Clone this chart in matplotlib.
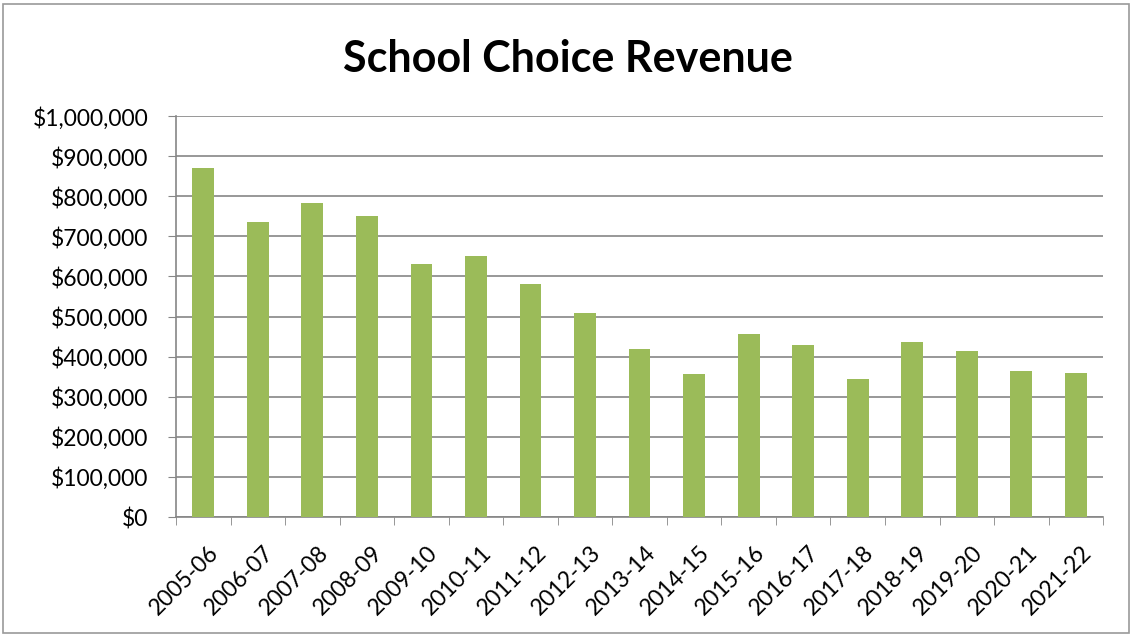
import matplotlib.pyplot as plt
import matplotlib.transforms as mtransforms
from matplotlib.ticker import FuncFormatter, FixedLocator
from matplotlib.patches import Rectangle

# school years and revenue
years = ["2005-06", "2006-07", "2007-08", "2008-09", "2009-10", "2010-11", "2011-12",
         "2012-13", "2013-14", "2014-15", "2015-16", "2016-17", "2017-18", "2018-19",
         "2019-20", "2020-21", "2021-22"]
revenue = [871000, 735000, 784000, 751000, 631000, 651000, 580000, 509000, 420000,
           356000, 456000, 428000, 344000, 437000, 413000, 364000, 360000]

plt.rcParams['font.family'] = ['Lato', 'DejaVu Sans']

fig = plt.figure(figsize=(11.32, 6.36), dpi=100)
ax = fig.add_axes([0.1555, 0.187, 0.819, 0.6305])

x = range(len(years))
ax.bar(x, revenue, width=0.4, color="#9BBB59", zorder=3)

ax.set_xlim(-0.5, len(years) - 0.5)
ax.set_ylim(0, 1000000)
ax.set_yticks(range(0, 1000001, 100000))
ax.yaxis.set_major_formatter(FuncFormatter(lambda v, p: "${:,.0f}".format(v)))
ax.grid(axis="y", color="#868686", linewidth=1.2, zorder=0)

ax.set_xticks(list(x))
ax.set_xticklabels(years, rotation=45, ha="right", rotation_mode="anchor")
ax.xaxis.set_minor_locator(FixedLocator([i - 0.5 for i in range(len(years) + 1)]))
ax.tick_params(axis="x", which="major", length=0, labelsize=16.5, pad=18)
ax.tick_params(axis="x", which="minor", length=6, color="#868686", direction="out")
ax.tick_params(axis="y", length=6, color="#868686", labelsize=16.5, pad=14)

# nudge the slanted year labels a little to the right
shift = mtransforms.ScaledTranslation(5 / 100, 0, fig.dpi_scale_trans)
for lbl in ax.get_xticklabels():
    lbl.set_transform(lbl.get_transform() + shift)

for side in ["top", "right"]:
    ax.spines[side].set_visible(False)
for side in ["left", "bottom"]:
    ax.spines[side].set_color("#868686")
    ax.spines[side].set_linewidth(1.2)

fig.text(0.502, 0.908, "School Choice Revenue", ha="center", va="center",
         fontsize=31, fontweight="bold")

# chart border
fig.patches.append(Rectangle((0.003, 0.005), 0.994, 0.989, transform=fig.transFigure,
                             fill=False, edgecolor="#9a9a9a", linewidth=1.2))

fig.savefig("out.png", dpi=100)
